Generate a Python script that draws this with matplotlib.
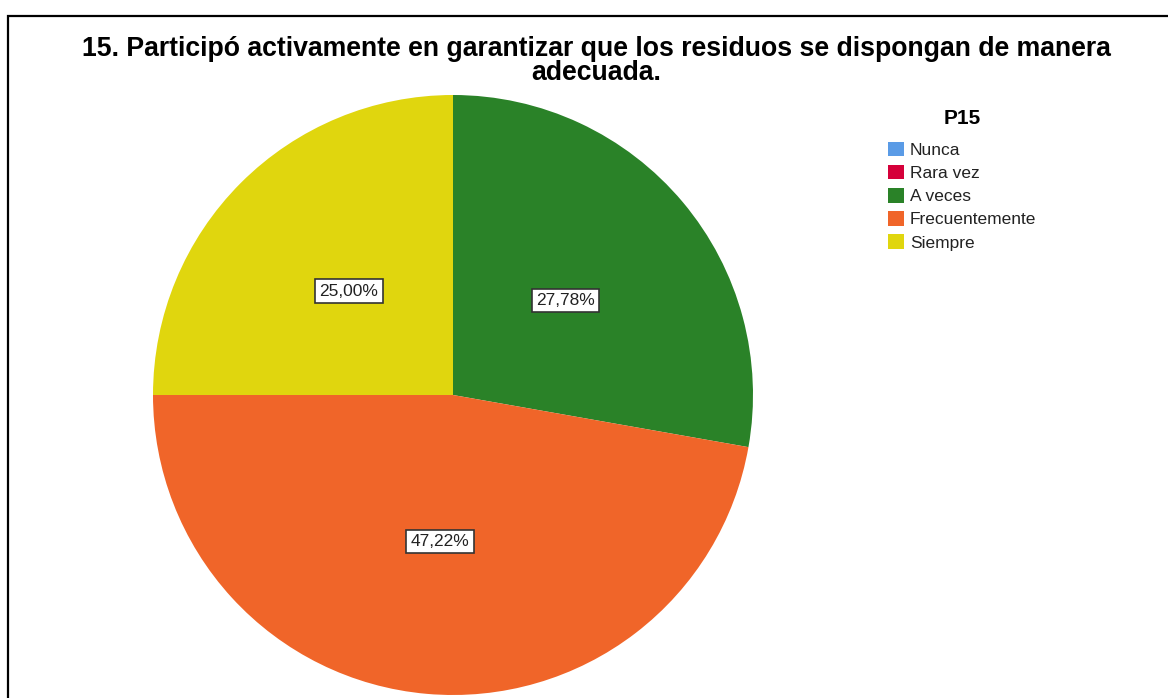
import matplotlib
matplotlib.use("Agg")
import matplotlib.pyplot as plt
from matplotlib.patches import Patch, Rectangle

plt.rcParams['font.family'] = ['Liberation Sans', 'DejaVu Sans']

# Data
# ----
categories = ['Nunca', 'Rara vez', 'A veces', 'Frecuentemente', 'Siempre']
percents = [0.0, 0.0, 27.78, 47.22, 25.00]
colors = ['#5a9be6', '#d5003a', '#2a8228', '#f06529', '#e0d60e']
title_lines = ['15. Participó activamente en garantizar que los residuos se dispongan de manera',
               'adecuada.']
legend_title = 'P15'

W, H = 1168, 698
fig = plt.figure(figsize=(W / 100, H / 100), dpi=100)

# outer frame (runs off the right and bottom)
fig.add_artist(Rectangle((7.5 / W, -0.1), 1.2, (H - 15.5) / H + 0.1,
                         transform=fig.transFigure, fill=False,
                         edgecolor='black', linewidth=1.6))

# title, two lines set tight together
for txt, base in zip(title_lines, [56, 80]):
    fig.text(596 / W, 1 - base / H, txt, ha='center', va='baseline',
             fontsize=19.2, fontweight='bold')

# pie axes: center (453, 395), radius 300 px
cx, cy, r = 453, 395, 300
lim = 1.01
side = 2 * r * lim
ax = fig.add_axes([(cx - side / 2) / W, (H - cy - side / 2) / H, side / W, side / H])


def fmt(p):
    if p < 0.005:
        return ''
    return '{:.2f}%'.format(p).replace('.', ',')


wedges, texts, autotexts = ax.pie(percents, colors=colors, startangle=90,
                                  counterclock=False, autopct=fmt,
                                  pctdistance=0.49, radius=1)
ax.set_xlim(-lim, lim)
ax.set_ylim(-lim, lim)
ax.set_aspect('equal')
for t in autotexts:
    t.set_fontsize(12.5)
    t.set_color('#222222')
    t.set_bbox(dict(facecolor='white', edgecolor='#333333', linewidth=1.2,
                    boxstyle='square,pad=0.25'))

handles = [Patch(facecolor=c, edgecolor='none') for c in colors]
leg = fig.legend(handles, categories, loc='upper left',
                 bbox_to_anchor=(888 / W, 1 - 109 / H), frameon=False,
                 borderpad=0, borderaxespad=0,
                 title=legend_title, fontsize=12.5, handlelength=0.95,
                 handleheight=0.9, handletextpad=0.3, labelspacing=0.4,
                 title_fontproperties={'weight': 'bold', 'size': 15})
leg._legend_box.sep = 10
for t in leg.get_texts():
    t.set_color('#222222')

plt.savefig('out.png', dpi=100, facecolor='w')
